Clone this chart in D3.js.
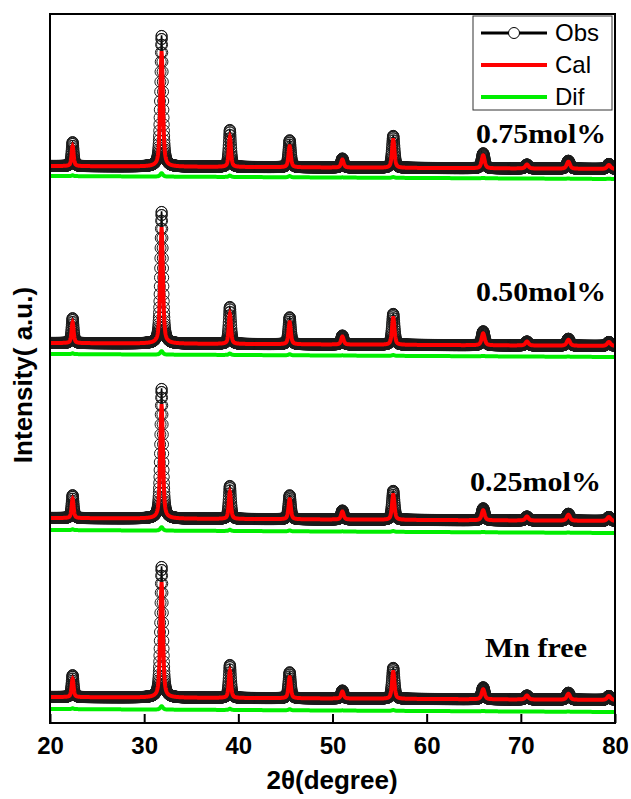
<!DOCTYPE html>
<html><head><meta charset="utf-8">
<script src="https://cdn.jsdelivr.net/npm/d3@7"></script>
<style>body{margin:0;background:#fff}svg{display:block}</style>
</head><body>
<svg id="chart" width="631" height="799"></svg>
<script>
// ---------- data ----------
const samples = ["0.75mol%", "0.50mol%", "0.25mol%", "Mn free"];
const peakPos  = [22.4, 31.85, 39.1, 45.45, 51.05, 56.45, 66.0, 70.65, 75.05, 79.35];
const peakFwhm = [0.26, 0.34, 0.28, 0.30, 0.32, 0.32, 0.38, 0.40, 0.42, 0.44];
// observed peak intensities above background (a.u.)
const obs075 = [24, 131, 37, 27, 9, 32, 15, 4, 8, 5];
const obs050 = [25, 132, 37, 27, 9, 31, 14, 4, 7, 4];
const obs025 = [23, 130, 33, 24, 9, 29, 12, 4, 7, 4];
const obsMn  = [22, 131, 33, 26, 8, 31, 12, 4, 7, 4];
// calculated peak intensities above background (a.u.)
const cal075 = [20, 114, 30, 21, 8, 28, 13, 4, 7, 4];
const cal050 = [21, 115, 30, 22, 8, 27, 12, 4, 6, 4];
const cal025 = [19, 113, 27, 20, 8, 25, 10, 4, 6, 4];
const calMn  = [18, 114, 27, 21, 7, 27, 10, 4, 6, 4];
// background level at 20° and 80°
const bg075 = [557, 554];
const bg050 = [380, 377];
const bg025 = [205, 202];
const bgMn  = [26, 23];
// offset of the difference curve below the background
const difOffset = [-10, -11, -12, -12];
const xTicks = [20, 30, 40, 50, 60, 70, 80];
const legendItems = ["Obs", "Cal", "Dif"];

const obsSets = [obs075, obs050, obs025, obsMn];
const calSets = [cal075, cal050, cal025, calMn];
const bgSets  = [bg075, bg050, bg025, bgMn];

// ---------- layout ----------
const svg = d3.select("#chart");
const L = 50, R = 615, T = 14, B = 723;
const x = d3.scaleLinear().domain([20, 80]).range([L, R]);
const y = d3.scaleLinear().domain([0, 709]).range([B, T]);

svg.append("defs").append("clipPath").attr("id", "clip")
  .append("rect").attr("x", L).attr("y", T).attr("width", R - L).attr("height", B - T);

function pv(t, p, w) {
  const d = (t - p) / w;
  const lor = 1 / (1 + 4 * d * d);
  const gau = Math.exp(-4 * Math.LN2 * d * d);
  return 0.55 * lor + 0.45 * gau;
}
const step = 0.02;
const grid = d3.range(0, Math.round(60 / step) + 1).map(i => 20 + i * step);

const plot = svg.append("g").attr("clip-path", "url(#clip)");

samples.forEach((s, si) => {
  const bg = bgSets[si];
  const pts = grid.map(t => {
    const b = bg[0] + (bg[1] - bg[0]) * (t - 20) / 60;
    let o = b, c = b;
    peakPos.forEach((p, k) => {
      const f = pv(t, p, peakFwhm[k]);
      o += obsSets[si][k] * f;
      c += calSets[si][k] * f;
    });
    const d = b + difOffset[si] + 0.2 * (o - c);
    return {t, o, c, d};
  });
  const g = plot.append("g");
  g.append("path").datum(pts)
    .attr("d", d3.line().x(p => x(p.t)).y(p => y(p.o)))
    .attr("fill", "none").attr("stroke", "#000").attr("stroke-width", 1.5);
  g.append("g").selectAll("circle").data(pts).join("circle")
    .attr("cx", p => x(p.t)).attr("cy", p => y(p.o)).attr("r", 5.5)
    .attr("fill", "none").attr("stroke", "#1a1a1a").attr("stroke-width", 1);
  g.append("path").datum(pts)
    .attr("d", d3.line().x(p => x(p.t)).y(p => y(p.c)))
    .attr("fill", "none").attr("stroke", "#ff0000").attr("stroke-width", 4);
  g.append("path").datum(pts)
    .attr("d", d3.line().x(p => x(p.t)).y(p => y(p.d)))
    .attr("fill", "none").attr("stroke", "#00ee00").attr("stroke-width", 4);
});

// frame
svg.append("rect").attr("x", L).attr("y", T).attr("width", R - L).attr("height", B - T)
  .attr("fill", "none").attr("stroke", "#000").attr("stroke-width", 2);

// x axis
const ax = svg.append("g").attr("transform", `translate(0,${B})`)
  .call(d3.axisBottom(x).tickValues(xTicks).tickFormat(d3.format("d"))
    .tickSizeInner(-9).tickSizeOuter(0).tickPadding(14));
ax.select(".domain").remove();
ax.selectAll("line").attr("stroke", "#000").attr("stroke-width", 2);
ax.selectAll("text").attr("font-family", "Liberation Sans, Arial, sans-serif")
  .attr("font-weight", "bold").attr("font-size", 24).attr("fill", "#000");

// axis titles
svg.append("text").attr("x", 332).attr("y", 789).attr("text-anchor", "middle")
  .attr("font-family", "Liberation Sans, Arial, sans-serif").attr("font-weight", "bold")
  .attr("font-size", 26).text("2θ(degree)");
svg.append("text").attr("transform", "translate(32,375) rotate(-90)").attr("text-anchor", "middle")
  .attr("font-family", "Liberation Sans, Arial, sans-serif").attr("font-weight", "bold")
  .attr("font-size", 26).text("Intensity( a.u.)");

// sample labels
const labelPos = [[476, 143], [476, 301], [470, 491], [485, 657]];
const labelLen = [130, 130, 131, 102];
samples.forEach((s, i) => {
  svg.append("text").attr("x", labelPos[i][0]).attr("y", labelPos[i][1])
    .attr("font-family", "Liberation Serif, Times New Roman, serif").attr("font-weight", "bold")
    .attr("font-size", 28).attr("textLength", labelLen[i]).attr("lengthAdjust", "spacingAndGlyphs")
    .text(s);
});

// legend
const lg = svg.append("g");
lg.append("rect").attr("x", 473).attr("y", 16).attr("width", 139).attr("height", 94)
  .attr("fill", "#fff").attr("stroke", "#333").attr("stroke-width", 1);
const lgColors = ["#000", "#ff0000", "#00ee00"];
const lgY = [33, 65, 97];
legendItems.forEach((n, i) => {
  lg.append("line").attr("x1", 481).attr("x2", 547).attr("y1", lgY[i]).attr("y2", lgY[i])
    .attr("stroke", lgColors[i]).attr("stroke-width", i === 0 ? 3 : 4);
  if (i === 0) lg.append("circle").attr("cx", 514).attr("cy", lgY[i]).attr("r", 5.5)
    .attr("fill", "#fff").attr("stroke", "#000").attr("stroke-width", 1);
  lg.append("text").attr("x", 555).attr("y", lgY[i] + 8)
    .attr("font-family", "Liberation Sans, Arial, sans-serif").attr("font-size", 24)
    .text(n);
});
</script>
</body></html>
